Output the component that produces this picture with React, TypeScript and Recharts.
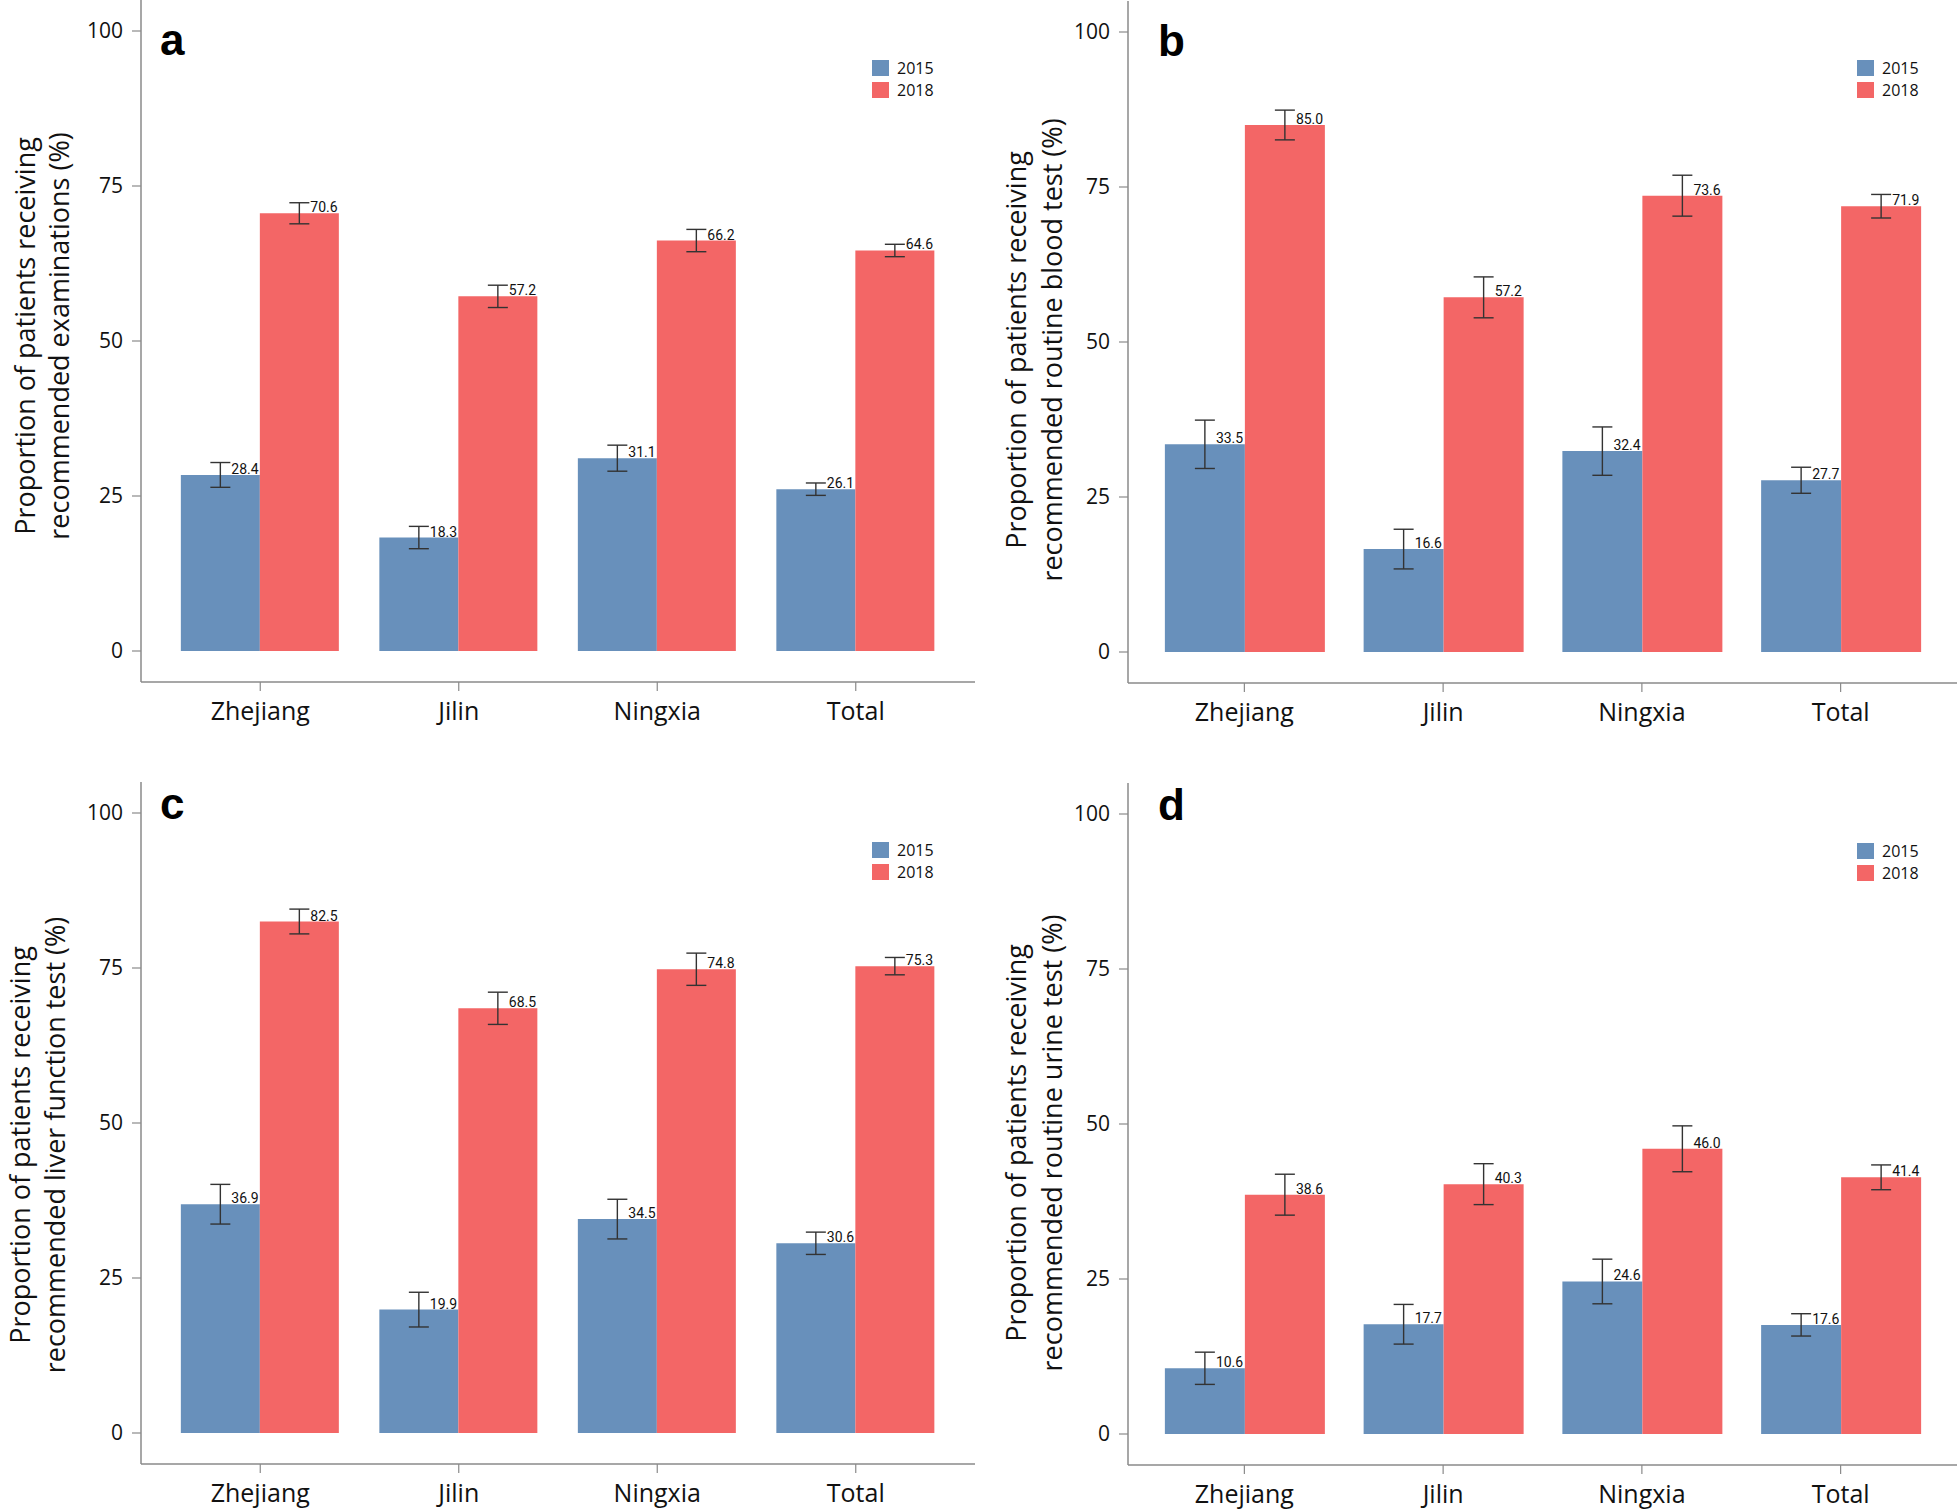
import React from 'react';
import { Bar, BarChart, ErrorBar, LabelList, Legend, XAxis, YAxis } from 'recharts';

const regions = ['Zhejiang', 'Jilin', 'Ningxia', 'Total'];
const years = ['2015', '2018'];
const yTicks = [0, 25, 50, 75, 100];

// a: recommended examinations
const exam2015 = [28.4, 18.3, 31.1, 26.1];
const exam2018 = [70.6, 57.2, 66.2, 64.6];
const examErr2015 = [2.0, 1.8, 2.1, 1.0];
const examErr2018 = [1.7, 1.8, 1.8, 1.0];

// b: routine blood test
const blood2015 = [33.5, 16.6, 32.4, 27.7];
const blood2018 = [85.0, 57.2, 73.6, 71.9];
const bloodErr2015 = [3.9, 3.2, 3.9, 2.1];
const bloodErr2018 = [2.4, 3.3, 3.3, 1.9];

// c: liver function test
const liver2015 = [36.9, 19.9, 34.5, 30.6];
const liver2018 = [82.5, 68.5, 74.8, 75.3];
const liverErr2015 = [3.2, 2.8, 3.2, 1.8];
const liverErr2018 = [2.0, 2.6, 2.6, 1.4];

// d: routine urine test
const urine2015 = [10.6, 17.7, 24.6, 17.6];
const urine2018 = [38.6, 40.3, 46.0, 41.4];
const urineErr2015 = [2.6, 3.2, 3.6, 1.8];
const urineErr2018 = [3.3, 3.3, 3.7, 2.0];

const BLUE = '#6890BB';
const RED = '#F36666';
const AXIS = '#8a8a8a';
const TEXT_FONT = "'Open Sans', 'Noto Sans', sans-serif";

function buildRows(v15: number[], v18: number[], e15: number[], e18: number[]) {
  return regions.map((region, i) => ({
    region,
    v15: v15[i],
    v18: v18[i],
    e15: e15[i],
    e18: e18[i],
  }));
}

const renderValue = (props: any) => {
  const { x, y, width, value } = props;
  return (
    <text
      x={Number(x) + Number(width) / 2 + 11}
      y={Number(y) - 1}
      fontSize={14}
      fontFamily="Roboto, 'Liberation Sans', sans-serif"
      fill="#111"
      textAnchor="start"
    >
      {Number(value).toFixed(1)}
    </text>
  );
};

const renderLegend = (props: any) => {
  const items = props.payload || [];
  return (
    <div style={{ fontFamily: TEXT_FONT, fontSize: 16, color: '#111' }}>
      {items.map((it: any) => (
        <div key={it.value} style={{ display: 'flex', alignItems: 'center', height: 22 }}>
          <div style={{ width: 17, height: 16, background: it.color, marginRight: 8 }} />
          <span style={{ lineHeight: '22px' }}>{it.value}</span>
        </div>
      ))}
    </div>
  );
};

interface PanelProps {
  letter: string;
  lines: string[];
  rows: any[];
  left: number;
  top: number;
  width: number;
  height: number;
  margin: { top: number; right: number; bottom: number; left: number };
  yAxisWidth: number;
  xAxisHeight: number;
  pad: number;
  letterPos: [number, number];
  legendPos: [number, number];
  labelX: [number, number];
  labelY: number;
}

function Panel(p: PanelProps) {
  return (
    <div style={{ position: 'absolute', left: p.left, top: p.top, width: p.width, height: p.height }}>
      <BarChart
        width={p.width}
        height={p.height}
        data={p.rows}
        margin={p.margin}
        barCategoryGap="10%"
        barGap={0}
      >
        <XAxis
          dataKey="region"
          height={p.xAxisHeight}
          padding={{ left: p.pad, right: p.pad }}
          axisLine={{ stroke: AXIS, strokeWidth: 1.5 }}
          tickLine={{ stroke: AXIS, strokeWidth: 1.2 }}
          tickSize={9}
          tickMargin={11}
          tick={{ fontSize: 25, fontFamily: TEXT_FONT, fill: '#111' }}
        />
        <YAxis
          type="number"
          domain={[-5, 105]}
          ticks={yTicks}
          allowDataOverflow
          width={p.yAxisWidth}
          axisLine={{ stroke: AXIS, strokeWidth: 1.5 }}
          tickLine={{ stroke: AXIS, strokeWidth: 1.2 }}
          tickSize={9}
          tickMargin={9}
          tick={{ fontSize: 21, fontFamily: TEXT_FONT, fill: '#111' }}
        />
        <Legend
          layout="vertical"
          align="center"
          verticalAlign="middle"
          content={renderLegend}
          wrapperStyle={{ left: p.legendPos[0], top: p.legendPos[1], width: 80 }}
        />
        <Bar dataKey="v15" name={years[0]} fill={BLUE} isAnimationActive={false}>
          <ErrorBar dataKey="e15" width={10} stroke="#333" strokeWidth={1.4} direction="y" />
          <LabelList dataKey="v15" content={renderValue} />
        </Bar>
        <Bar dataKey="v18" name={years[1]} fill={RED} isAnimationActive={false}>
          <ErrorBar dataKey="e18" width={10} stroke="#333" strokeWidth={1.4} direction="y" />
          <LabelList dataKey="v18" content={renderValue} />
        </Bar>
      </BarChart>
      <svg
        width={p.width}
        height={p.height}
        style={{ position: 'absolute', left: 0, top: 0, pointerEvents: 'none' }}
      >
        <text
          x={p.letterPos[0]}
          y={p.letterPos[1]}
          fontSize={44}
          fontWeight="bold"
          fontFamily="'Liberation Sans', Arial, sans-serif"
          fill="#000"
        >
          {p.letter}
        </text>
        {p.lines.map((line, i) => (
          <text
            key={i}
            x={p.labelX[i]}
            y={p.labelY}
            transform={`rotate(-90, ${p.labelX[i]}, ${p.labelY})`}
            textAnchor="middle"
            dominantBaseline="central"
            fontSize={27}
            fontFamily={TEXT_FONT}
            fill="#111"
          >
            {line}
          </text>
        ))}
      </svg>
    </div>
  );
}

export default function App() {
  return (
    <div style={{ position: 'absolute', left: 0, top: 0, width: 1959, height: 1512, background: '#fff' }}>
      <Panel
        letter="a"
        lines={['Proportion of patients receiving', 'recommended examinations (%)']}
        rows={buildRows(exam2015, exam2018, examErr2015, examErr2018)}
        left={0}
        top={0}
        width={980}
        height={760}
        margin={{ top: 0, right: 5, bottom: 28, left: 0 }}
        yAxisWidth={141}
        xAxisHeight={50}
        pad={20}
        letterPos={[160, 55]}
        legendPos={[872, 57]}
        labelX={[24, 58]}
        labelY={336}
      />
      <Panel
        letter="b"
        lines={['Proportion of patients receiving', 'recommended routine blood test (%)']}
        rows={buildRows(blood2015, blood2018, bloodErr2015, bloodErr2018)}
        left={980}
        top={0}
        width={979}
        height={760}
        margin={{ top: 1, right: 2, bottom: 27, left: 0 }}
        yAxisWidth={148}
        xAxisHeight={50}
        pad={17}
        letterPos={[178, 56]}
        legendPos={[877, 57]}
        labelX={[35, 71]}
        labelY={350}
      />
      <Panel
        letter="c"
        lines={['Proportion of patients receiving', 'recommended liver function test (%)']}
        rows={buildRows(liver2015, liver2018, liverErr2015, liverErr2018)}
        left={0}
        top={760}
        width={980}
        height={752}
        margin={{ top: 22, right: 5, bottom: 0, left: 0 }}
        yAxisWidth={141}
        xAxisHeight={48}
        pad={20}
        letterPos={[160, 59]}
        legendPos={[872, 79]}
        labelX={[19, 54]}
        labelY={385}
      />
      <Panel
        letter="d"
        lines={['Proportion of patients receiving', 'recommended routine urine test (%)']}
        rows={buildRows(urine2015, urine2018, urineErr2015, urineErr2018)}
        left={980}
        top={760}
        width={979}
        height={752}
        margin={{ top: 23, right: 2, bottom: 0, left: 0 }}
        yAxisWidth={148}
        xAxisHeight={47}
        pad={17}
        letterPos={[178, 60]}
        legendPos={[877, 80]}
        labelX={[35, 71]}
        labelY={383}
      />
    </div>
  );
}
